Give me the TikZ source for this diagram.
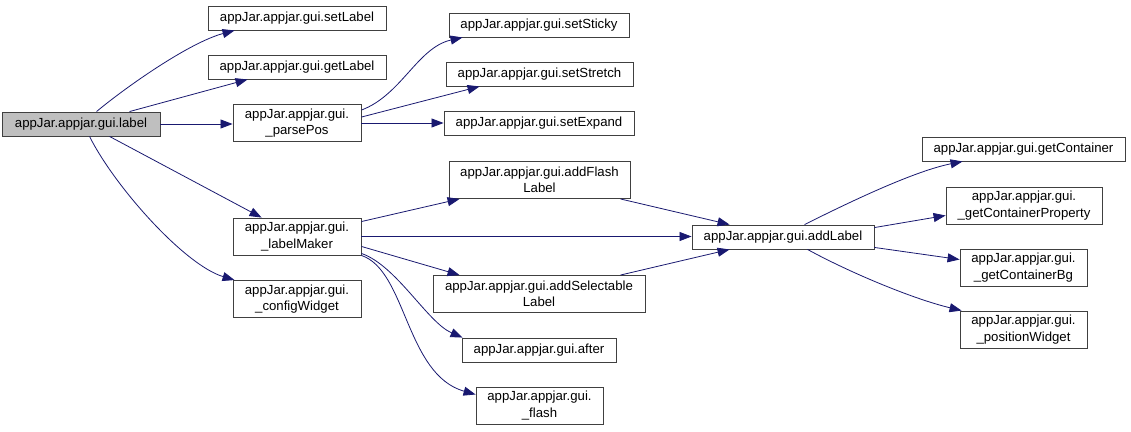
\documentclass[tikz,border=0pt]{standalone}
\usepackage{fontspec}
\setmainfont{Liberation Sans}
\usetikzlibrary{arrows.meta,calc}
\definecolor{edgeblue}{HTML}{191970}
\definecolor{boxgray}{HTML}{BFBFBF}
\definecolor{boxline}{HTML}{404040}
\tikzset{
  fn/.style={draw=boxline, line width=0.9pt, fill=white, inner sep=0pt, align=center,
    font=\fontsize{13.2}{16.5}\selectfont, minimum height=24pt},
  fn2/.style={fn, minimum height=37pt},
  root/.style={fn, fill=boxgray},
  e/.style={draw=edgeblue, line width=0.8pt, -{Triangle[length=12pt,width=9pt]}}
}
\begin{document}
\begin{tikzpicture}[x=1pt,y=-1pt]
\useasboundingbox (0,0) rectangle (1131,431);
% nodes
\node[root, minimum width=158pt] (label) at (81,124) {appJar.appjar.gui.label};
\node[fn, minimum width=178pt] (setLabel) at (297,18) {appJar.appjar.gui.setLabel};
\node[fn, minimum width=178pt] (getLabel) at (297,67) {appJar.appjar.gui.getLabel};
\node[fn2, minimum width=128pt] (parsePos) at (297,123) {appJar.appjar.gui.\\\_parsePos};
\node[fn2, minimum width=128pt] (labelMaker) at (297,236.5) {appJar.appjar.gui.\\\_labelMaker};
\node[fn2, minimum width=128pt] (configWidget) at (297,299) {appJar.appjar.gui.\\\_configWidget};
\node[fn, minimum width=180pt] (setSticky) at (539,25) {appJar.appjar.gui.setSticky};
\node[fn, minimum width=187pt] (setStretch) at (539.5,74) {appJar.appjar.gui.setStretch};
\node[fn, minimum width=190pt] (setExpand) at (539,123.5) {appJar.appjar.gui.setExpand};
\node[fn2, minimum width=181pt] (addFlash) at (539.5,180) {appJar.appjar.gui.addFlash\\Label};
\node[fn2, minimum width=212pt] (addSel) at (539,294) {appJar.appjar.gui.addSelectable\\Label};
\node[fn, minimum width=154pt] (after) at (539,350) {appJar.appjar.gui.after};
\node[fn2, minimum width=127pt] (flash) at (539.5,405.5) {appJar.appjar.gui.\\\_flash};
\node[fn, minimum width=182pt] (addLabel) at (783,237) {appJar.appjar.gui.addLabel};
\node[fn, minimum width=203pt] (getContainer) at (1023.5,149) {appJar.appjar.gui.getContainer};
\node[fn2, minimum width=156pt] (gcProp) at (1024,205.5) {appJar.appjar.gui.\\\_getContainerProperty};
\node[fn2, minimum width=127pt] (gcBg) at (1023.5,267.5) {appJar.appjar.gui.\\\_getContainerBg};
\node[fn2, minimum width=127pt] (posWidget) at (1023.5,329.5) {appJar.appjar.gui.\\\_positionWidget};
% edges from label
\draw[e] ($(label.north west)+(95,0)$) .. controls +(30,-25) and +(-45,12) .. ($(setLabel.south west)+(27,0)$);
\draw[e] ($(label.north west)+(128,0)$) -- ($(getLabel.south west)+(40,0)$);
\draw[e] (label.east) -- (label.east -| parsePos.west);
\draw[e] ($(label.south west)+(108,0)$) -- ($(labelMaker.north west)+(29,0)$);
\draw[e] ($(label.south west)+(88,0)$) .. controls +(25,50) and +(-50,-15) .. ($(configWidget.north west)+(2,0)$);
% edges from parsePos
\draw[e] ($(parsePos.north east)+(0,6)$) .. controls +(40,-15) and +(-45,10) .. ($(setSticky.south west)+(14,0)$);
\draw[e] ($(parsePos.north east)+(0,13)$) -- ($(setStretch.south west)+(34,0)$);
\draw[e] (parsePos.east) -- (parsePos.east -| setExpand.west);
% edges from labelMaker
\draw[e] ($(labelMaker.north east)+(0,4)$) -- ($(addFlash.south west)+(11,0)$);
\draw[e] (labelMaker.east) -- (labelMaker.east -| addLabel.west);
\draw[e] ($(labelMaker.south east)+(0,-9)$) -- ($(addSel.north west)+(27,0)$);
\draw[e] ($(labelMaker.south east)+(0,-2)$) .. controls +(35,12) and +(-35,-15) .. ($(after.north west)+(1,0)$);
\draw[e] (labelMaker.south east) .. controls +(45,15) and +(-70,-20) .. ($(flash.west)+(0,-11)$);
% into addLabel
\draw[e] ($(addFlash.south east)+(-10,0)$) -- ($(addLabel.north west)+(38,0)$);
\draw[e] ($(addSel.north east)+(-25,0)$) -- ($(addLabel.south west)+(38,0)$);
% from addLabel
\draw[e] ($(addLabel.north west)+(113,0)$) .. controls +(40,-20) and +(-50,10) .. ($(getContainer.south west)+(41,0)$);
\draw[e] ($(addLabel.north east)+(0,3)$) -- ($(gcProp.west)+(0,10)$);
\draw[e] ($(addLabel.south east)+(0,-2)$) -- ($(gcBg.west)+(0,-8)$);
\draw[e] ($(addLabel.south west)+(116,0)$) .. controls +(40,22) and +(-50,-12) .. ($(posWidget.north west)+(2,0)$);
\end{tikzpicture}
\end{document}
